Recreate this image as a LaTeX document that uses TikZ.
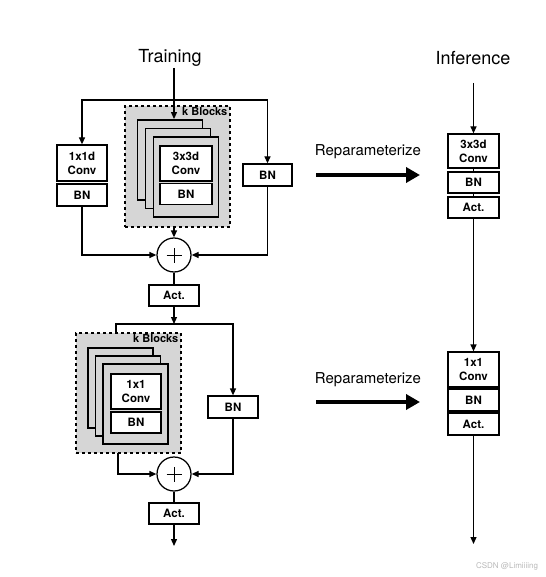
\documentclass[tikz,border=0pt]{standalone}
\usepackage{fontspec}
\setmainfont{TeX Gyre Heros}
\usetikzlibrary{arrows.meta,calc}
\definecolor{blkgray}{RGB}{214,214,214}
\begin{document}
\begin{tikzpicture}[x=1pt,y=-1pt,
  ln/.style={line width=1.25pt},
  arr/.style={line width=1.25pt,-{Triangle[length=7pt,width=6pt]}},
  bigarr/.style={line width=4pt,-{Triangle[length=14pt,width=15pt]}},
  box/.style={draw,fill=white,line width=1.25pt,inner sep=0pt,align=center,
    font=\fontsize{11.5}{14}\selectfont\bfseries},
  stackbox/.style={draw,fill=blkgray,line width=1.9pt,inner sep=0pt,minimum width=65pt,minimum height=80pt},
  kbox/.style={draw,fill=blkgray,dashed,line width=1.1pt,inner sep=0pt,minimum width=105pt},
  klabel/.style={font=\fontsize{11}{13}\selectfont\bfseries,inner sep=1pt,anchor=north east},
  addop/.style={draw,circle,fill=white,line width=1.25pt,minimum size=34pt,inner sep=0pt},
  plusmark/.style={line width=0.9pt},
  title/.style={font=\fontsize{18}{22}\selectfont},
  reptext/.style={font=\fontsize{15}{18}\selectfont}]
\useasboundingbox (0,0) rectangle (545,577);

% titles
\node[title] (ttrain) at (170,58) {Training};
\node[title] (tinf) at (473,58) {Inference};

% ---------- top training block ----------
\coordinate (in1) at (174,68);
\coordinate (j1) at (174,100);
\node[kbox,minimum height=121pt] (kb1) at (177.5,166.5) {};
\node[klabel] (kl1) at ([xshift=-2pt,yshift=-1pt]kb1.north east) {k Blocks};
\node[stackbox] (st1a) at (170,160) {};
\node[stackbox] (st1b) at (178,168.5) {};
\node[stackbox] (st1c) at (186,177) {};
\node[box,minimum width=52pt,minimum height=35pt] (c33) at (186,163.5) {3x3d\\Conv};
\node[box,minimum width=52pt,minimum height=21pt] (bn33) at (186,194) {BN};

\node[box,minimum width=50pt,minimum height=36pt] (c11d) at (82,163) {1x1d\\Conv};
\node[box,minimum width=50pt,minimum height=22pt] (bn11d) at (82,195) {BN};
\node[box,minimum width=49pt,minimum height=22pt] (bnR1) at (267.5,175) {BN};

\node[addop] (plus1) at (174,255) {};
\draw[plusmark] ([xshift=-7.5pt]plus1.center) -- ([xshift=7.5pt]plus1.center)
          ([yshift=-7.5pt]plus1.center) -- ([yshift=7.5pt]plus1.center);
\node[box,minimum width=50pt,minimum height=21pt] (act1) at (174,295.5) {Act.};

\draw[arr] (in1) -- (in1 |- st1a.north);
\draw[arr] (j1) -| (c11d.north);
\draw[arr] (j1) -| (bnR1.north);
\draw[arr] (plus1.north |- kb1.south) -- (plus1.north);
\draw[arr] (bn11d.south) |- (plus1.west);
\draw[arr] (bnR1.south) |- (plus1.east);
\draw[ln] (plus1.south) -- (act1.north);

% ---------- bottom training block ----------
\coordinate (j2) at (174,324);
\node[kbox,minimum height=120pt] (kb2) at (128.5,393) {};
\node[klabel] (kl2) at ([xshift=-2pt,yshift=-1pt]kb2.north east) {k Blocks};
\coordinate (k2in) at (116,333);
\coordinate (k2out) at (118,453);
\node[stackbox] (st2a) at (120.5,388) {};
\node[stackbox] (st2b) at (128,396) {};
\node[stackbox] (st2c) at (135.5,404) {};
\node[box,minimum width=50pt,minimum height=35pt] (c11) at (136,391.5) {1x1\\Conv};
\node[box,minimum width=50pt,minimum height=21pt] (bn11) at (136,422.5) {BN};
\node[box,minimum width=50pt,minimum height=22pt] (bnR2) at (233,407) {BN};

\node[addop] (plus2) at (174,474) {};
\draw[plusmark] ([xshift=-7.5pt]plus2.center) -- ([xshift=7.5pt]plus2.center)
          ([yshift=-7.5pt]plus2.center) -- ([yshift=7.5pt]plus2.center);
\node[box,minimum width=50pt,minimum height=21pt] (act2) at (174,513.5) {Act.};
\coordinate (out2) at (174,546);

\draw[arr] (act1.south) -- (j2);
\draw[ln] (j2) -| (k2in);
\draw[arr] (j2) -| (bnR2.north);
\draw[arr] (k2out) |- (plus2.west);
\draw[arr] (bnR2.south) |- (plus2.east);
\draw[ln] (plus2.south) -- (act2.north);
\draw[arr] (act2.south) -- (out2);

% ---------- inference ----------
\coordinate (in3) at (473.5,83);
\node[box,minimum width=51pt,minimum height=34pt] (ic1) at (473.5,151) {3x3d\\Conv};
\node[box,minimum width=51pt,minimum height=21pt] (ibn1) at (473.5,182.5) {BN};
\node[box,minimum width=51pt,minimum height=21pt] (iact1) at (473.5,207.5) {Act.};
\node[box,minimum width=51pt,minimum height=35pt] (ic2) at (473.5,369.5) {1x1\\Conv};
\node[box,minimum width=51pt,minimum height=22pt] (ibn2) at (473.5,400) {BN};
\node[box,minimum width=51pt,minimum height=22pt] (iact2) at (473.5,424) {Act.};
\coordinate (out3) at (473.5,544);

\draw[arr] (in3) -- (ic1.north);
\draw[ln] (ic1.south) -- (ibn1.north);
\draw[ln] (ibn1.south) -- (iact1.north);
\draw[arr] (iact1.south) -- (ic2.north);
\draw[ln] (ic2.south) -- (ibn2.north);
\draw[ln] (ibn2.south) -- (iact2.north);
\draw[arr] (iact2.south) -- (out3);

% ---------- reparameterize arrows ----------
\node[reptext] (rep1) at (368,152) {Reparameterize};
\coordinate (ra1) at (316,175);
\coordinate (rb1) at (420,175);
\draw[bigarr] (ra1) -- (rb1);
\node[reptext] (rep2) at (368,380) {Reparameterize};
\coordinate (ra2) at (316,402);
\coordinate (rb2) at (420,402);
\draw[bigarr] (ra2) -- (rb2);

% watermark
\node[font=\fontsize{8}{10}\selectfont,text=gray!55] (wm) at (507,566) {CSDN @Limiiiing};
\end{tikzpicture}
\end{document}
